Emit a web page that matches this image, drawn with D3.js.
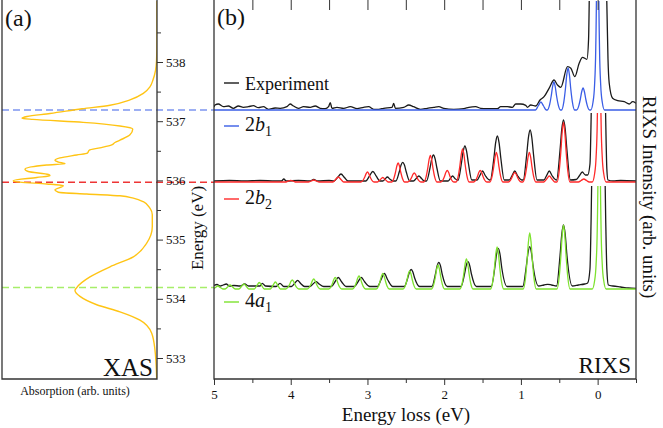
<!DOCTYPE html>
<html><head><meta charset="utf-8">
<script src="https://cdn.jsdelivr.net/npm/d3@7"></script>
<style>
body{margin:0;background:#fff}
svg{display:block}
text{font-family:"Liberation Serif","Times New Roman",serif;fill:#111}
</style></head>
<body><svg id="c" width="663" height="428"></svg>
<script>
// ---------------- DATA ----------------
// XAS: [photon energy (eV), absorption (arb.)]
const xasData = [[539.03,0],[538.37,0],[538.03,0.003],[537.86,0.01],[537.70,0.027],[537.58,0.048],[537.47,0.093],[537.36,0.184],[537.27,0.32],[537.21,0.51],[537.13,0.728],[537.08,0.884],[537.05,0.918],[537.03,0.844],[536.98,0.503],[536.92,0.252],[536.87,0.165],[536.77,0.184],[536.68,0.252],[536.64,0.286],[536.60,0.308],[536.55,0.388],[536.51,0.461],[536.46,0.474],[536.43,0.546],[536.38,0.66],[536.34,0.694],[536.31,0.671],[536.28,0.626],[536.26,0.75],[536.19,0.898],[536.15,0.876],[536.10,0.739],[536.08,0.728],[536.05,0.818],[535.995,0.978],[535.97,0.932],[535.94,0.75],[535.91,0.637],[535.84,0.694],[535.80,0.671],[535.77,0.478],[535.74,0.252],[535.70,0.161],[535.64,0.093],[535.53,0.048],[535.42,0.032],[535.22,0.032],[534.94,0.07],[534.71,0.161],[534.54,0.32],[534.37,0.456],[534.19,0.546],[534.14,0.558],[534.04,0.524],[533.90,0.41],[533.78,0.252],[533.64,0.116],[533.42,0.036],[533.14,0.014],[532.65,0.002]];

// Excitation energies (dashed lines)
const excitationEnergies = [537.19, 535.97, 534.19];
const excitationColors = ["#7d95ef", "#ee3535", "#a6ee6a"];

// RIXS spectra: [energy loss (eV), intensity incl. vertical offset (arb.)]
const exp2b1 = [[5.0,272],[4.987,274],[4.944,275],[4.878,272.3],[4.813,273],[4.748,270.7],[4.683,273],[4.617,271.7],[4.552,272.3],[4.487,273.3],[4.421,271.3],[4.356,272.3],[4.291,269.7],[4.203,271],[4.138,270.7],[4.05,272.3],[4.007,275],[3.964,273],[3.899,270.7],[3.833,272.3],[3.746,271.7],[3.681,273],[3.615,270.7],[3.55,270.3],[3.507,272.3],[3.485,276.3],[3.462,270.7],[3.397,271.7],[3.311,270.7],[3.223,272.3],[3.136,270.3],[3.05,271.7],[2.984,272.3],[2.919,269.7],[2.854,269.7],[2.788,270.7],[2.679,271.7],[2.658,275.7],[2.636,270.7],[2.527,271.7],[2.462,274],[2.397,272.3],[2.309,269.7],[2.221,270.7],[2.135,271.7],[2.07,272.3],[2.005,270.7],[1.874,269.7],[1.743,270.3],[1.678,271.7],[1.59,272.3],[1.525,270.7],[1.438,270.3],[1.307,270.3],[1.264,272.3],[1.176,272.3],[1.111,271.7],[1.068,275],[1.003,275],[0.937,273.7],[0.915,271.7],[0.872,274],[0.807,273],[0.751,279],[0.698,282.3],[0.633,290.7],[0.568,299],[0.523,294],[0.48,291.7],[0.393,312.3],[0.349,310.7],[0.297,302.3],[0.241,315.7],[0.197,321.7],[0.14,319.7],[0.118,340],[0.1,420],[0,480],[-0.105,420],[-0.12,375],[-0.135,320],[-0.151,295.7],[-0.195,280.7],[-0.261,278.3],[-0.347,277.3],[-0.412,275],[-0.456,277.3],[-0.5,275.7]];

const calc2b1 = [[5.0,269],[0.81,269],[0.775,273],[0.74,277],[0.705,273],[0.67,269],[0.655,269],[0.625,274.6],[0.605,283],[0.587,292.5],[0.57,297],[0.553,292.5],[0.535,283],[0.515,274.6],[0.485,269],[0.47,269],[0.44,277.4],[0.42,290],[0.402,304.3],[0.385,311],[0.368,304.3],[0.35,290],[0.33,277.4],[0.30,269],[0.275,269],[0.245,273.4],[0.225,280],[0.207,287.5],[0.19,291],[0.173,287.5],[0.155,280],[0.135,273.4],[0.105,269],[0.09,269],[0.06,277],[0.04,294],[0.025,329],[0.012,419],[0,669],[-0.012,419],[-0.025,329],[-0.04,294],[-0.06,277],[-0.09,269],[-0.5,269]];

const exp2b2 = [[5.0,198],[4.8,198.5],[4.6,198],[4.4,198.5],[4.2,198],[4.12,198],[4.09,200],[4.06,198],[3.9,198.5],[3.75,198],[3.7,199.5],[3.65,198],[3.5,198.5],[3.435,198],[3.39,201.5],[3.345,205],[3.30,201.5],[3.255,198],[3.02,198],[2.975,202.8],[2.93,207.5],[2.885,202.8],[2.84,198],[2.80,198],[2.77,200],[2.74,202],[2.71,200],[2.665,198],[2.63,198],[2.585,207.3],[2.562,213.9],[2.54,216.7],[2.518,213.9],[2.495,207.3],[2.45,198],[2.40,198],[2.365,200.5],[2.33,203],[2.295,200.5],[2.26,198],[2.23,198],[2.185,211],[2.162,220.1],[2.14,224],[2.118,220.1],[2.095,211],[2.05,198],[1.95,198],[1.92,200.5],[1.89,203],[1.86,200.5],[1.82,198.5],[1.775,216],[1.752,227.8],[1.73,233],[1.708,227.8],[1.685,216],[1.64,199],[1.57,199],[1.535,203.5],[1.50,208],[1.465,203.5],[1.41,199],[1.40,199],[1.352,221],[1.329,236.4],[1.307,243],[1.285,236.4],[1.262,221],[1.217,199],[1.15,199],[1.115,203.5],[1.08,208],[1.045,203.5],[0.99,199],[0.97,199],[0.925,224],[0.902,241.5],[0.88,249],[0.858,241.5],[0.835,224],[0.79,199],[0.70,199],[0.665,203.5],[0.63,208],[0.595,203.5],[0.54,199],[0.535,199],[0.49,229],[0.467,250],[0.445,259],[0.423,250],[0.40,229],[0.355,199],[0.28,199.5],[0.24,203],[0.20,207],[0.16,204],[0.13,204],[0.10,215],[0.085,260],[0.07,330],[0,420],[-0.09,330],[-0.105,260],[-0.12,210],[-0.135,199],[-0.2,198],[-0.3,198.5],[-0.5,198]];

const calc2b2 = [[5.0,197],[4.07,197],[4.035,197.8],[4.0,198.5],[3.965,197.8],[3.93,197],[3.77,197],[3.735,198],[3.7,199],[3.665,198],[3.63,197],[3.45,197],[3.415,199.5],[3.38,202],[3.345,199.5],[3.31,197],[3.085,197],[3.055,199],[3.035,202],[3.017,205.4],[3.0,207],[2.983,205.4],[2.965,202],[2.945,199],[2.915,197],[2.87,197],[2.835,199.3],[2.8,201.5],[2.765,199.3],[2.73,197],[2.685,197],[2.655,200.8],[2.635,206.5],[2.617,213],[2.6,216],[2.583,213],[2.565,206.5],[2.545,200.8],[2.515,197],[2.475,197],[2.445,198.8],[2.425,201.5],[2.407,204.6],[2.39,206],[2.373,204.6],[2.355,201.5],[2.335,198.8],[2.305,197],[2.265,197],[2.235,202.3],[2.215,210.3],[2.197,219.3],[2.18,223.5],[2.163,219.3],[2.145,210.3],[2.125,202.3],[2.095,197],[2.045,197],[2.015,199.3],[1.995,202.8],[1.977,206.7],[1.96,208.5],[1.943,206.7],[1.925,202.8],[1.905,199.3],[1.875,197],[1.845,197],[1.815,203.6],[1.795,213.5],[1.777,224.7],[1.76,230],[1.743,224.7],[1.725,213.5],[1.705,203.6],[1.675,197],[1.615,197],[1.585,199.3],[1.565,202.8],[1.547,206.7],[1.53,208.5],[1.513,206.7],[1.495,202.8],[1.475,199.3],[1.445,197],[1.405,197],[1.375,202.9],[1.355,211.8],[1.337,221.8],[1.32,226.5],[1.303,221.8],[1.285,211.8],[1.265,202.9],[1.235,197],[1.165,197],[1.135,198.9],[1.115,201.8],[1.097,205],[1.08,206.5],[1.063,205],[1.045,201.8],[1.025,198.9],[0.995,197],[0.975,197],[0.945,202.9],[0.925,211.8],[0.907,221.8],[0.89,226.5],[0.873,221.8],[0.855,211.8],[0.835,202.9],[0.805,197],[0.70,197],[0.665,200],[0.63,203],[0.595,200],[0.56,197],[0.53,197],[0.5,208.9],[0.48,226.8],[0.462,247],[0.445,256.5],[0.428,247],[0.41,226.8],[0.39,208.9],[0.36,197],[0.25,197],[0.215,198.5],[0.18,200],[0.145,198.5],[0.11,197],[0.07,197],[0.04,205],[0.02,222],[0.005,257],[-0.008,347],[-0.02,597],[-0.032,347],[-0.045,257],[-0.06,222],[-0.08,205],[-0.11,197],[-0.5,197]];

const exp4a1 = [[5.0,93.5],[4.96,94.5],[4.92,93],[4.88,94],[4.84,95],[4.80,93],[4.74,93.5],[4.66,93],[4.60,95],[4.55,93],[4.50,93],[4.43,93],[4.40,93],[4.37,95.7],[4.33,93],[4.19,92.5],[4.14,95.7],[4.09,92.5],[3.99,92.5],[3.95,95.5],[3.91,98.7],[3.87,95.5],[3.82,92.5],[3.75,92.5],[3.71,95],[3.67,97.3],[3.63,95],[3.57,92.5],[3.47,92.5],[3.425,97],[3.38,101.5],[3.335,97],[3.28,92.5],[3.17,92.5],[3.125,97],[3.08,101.5],[3.035,97],[2.97,92.5],[2.87,92.5],[2.825,99],[2.78,105.5],[2.735,99],[2.67,92.5],[2.52,92.5],[2.475,101],[2.452,107],[2.43,109.5],[2.408,107],[2.385,101],[2.32,92.5],[2.16,92.5],[2.115,104.5],[2.092,113.1],[2.07,116.7],[2.048,113.1],[2.025,104.5],[1.96,92.5],[1.78,92.5],[1.735,105],[1.712,113.6],[1.69,117.3],[1.668,113.6],[1.645,105],[1.58,92.5],[1.385,92.5],[1.34,111.5],[1.317,125],[1.295,130.7],[1.273,125],[1.25,111.5],[1.18,92.5],[0.975,92.5],[0.93,112.5],[0.907,126.3],[0.885,132.3],[0.863,126.3],[0.84,112.5],[0.77,93],[0.70,94],[0.65,94.7],[0.60,94],[0.535,93],[0.49,123.5],[0.467,144.9],[0.445,154],[0.423,144.9],[0.40,123.5],[0.33,93],[0.25,94],[0.17,95],[0.13,96],[0.10,110],[0.085,160],[0.07,230],[0,320],[-0.09,230],[-0.105,160],[-0.12,110],[-0.14,94],[-0.2,93],[-0.3,92],[-0.4,91],[-0.5,90.7]];

const calc4a1 = [[5.0,90.5],[4.982,91.5],[4.95,93],[4.918,91.5],[4.885,90],[4.855,90],[4.822,92],[4.79,94],[4.758,92],[4.725,90],[4.675,90],[4.642,92.5],[4.61,95],[4.578,92.5],[4.545,90],[4.475,90],[4.442,93.3],[4.41,96.5],[4.378,93.3],[4.345,90],[4.265,90],[4.232,93.5],[4.20,97],[4.168,93.5],[4.135,90],[4.065,90],[4.035,91.8],[4.015,94.5],[3.997,97.6],[3.98,99],[3.963,97.6],[3.945,94.5],[3.925,91.8],[3.895,90],[3.785,90],[3.755,92],[3.735,95],[3.717,98.4],[3.70,100],[3.683,98.4],[3.665,95],[3.645,92],[3.615,90],[3.505,90],[3.475,92.3],[3.455,95.8],[3.437,99.7],[3.42,101.5],[3.403,99.7],[3.385,95.8],[3.365,92.3],[3.335,90],[3.195,90],[3.165,92.6],[3.145,96.5],[3.127,100.9],[3.11,103],[3.093,100.9],[3.075,96.5],[3.055,92.6],[3.025,90],[2.885,90],[2.855,93.1],[2.835,97.8],[2.817,103],[2.80,105.5],[2.783,103],[2.765,97.8],[2.745,93.1],[2.715,90],[2.535,90],[2.505,93.6],[2.485,99],[2.467,105.1],[2.45,108],[2.433,105.1],[2.415,99],[2.395,93.6],[2.365,90],[2.165,90],[2.135,94.8],[2.115,102],[2.097,110.2],[2.08,114],[2.063,110.2],[2.045,102],[2.025,94.8],[1.995,90],[1.795,90],[1.765,96],[1.745,105],[1.727,115.2],[1.71,120],[1.693,115.2],[1.675,105],[1.655,96],[1.625,90],[1.395,90],[1.365,98.4],[1.345,111],[1.327,125.3],[1.31,132],[1.293,125.3],[1.275,111],[1.255,98.4],[1.225,90],[0.97,90],[0.94,101.2],[0.92,118],[0.902,137],[0.885,146],[0.868,137],[0.85,118],[0.83,101.2],[0.80,90],[0.53,90],[0.5,102.8],[0.48,122],[0.462,143.8],[0.445,154],[0.428,143.8],[0.41,122],[0.39,102.8],[0.36,90],[0.07,90],[0.04,98],[0.02,115],[0.005,150],[-0.008,240],[-0.02,490],[-0.032,240],[-0.045,150],[-0.06,115],[-0.08,98],[-0.11,90],[-0.5,90]];

// Vertical ceilings (arb.) above which each spectrum pair is cut
const ceilings = [378, 266, 193];

// Tick values & labels
const energyMajor = [533,534,535,536,537,538];
const energyMinor = [533.5,534.5,535.5,536.5,537.5,538.5];
const lossMajor = [5,4,3,2,1,0];
const lossMinor = [4.5,3.5,2.5,1.5,0.5,-0.5];
const lossTop = [4.5,4,3.5,3,2.5,2,1.5,1,0.5,0];

const legendNames = [["Experiment","",""],["2","b","1"],["2","b","2"],["4","a","1"]];
const legendColors = ["#1a1a1a","#3a5de6","#ff2a2a","#7de22e"];

// ---------------- DRAW ----------------
const svg = d3.select("#c");
const A = {l:2, r:157, t:-2, b:379};
const B = {l:214, r:636, t:-2, b:379};

const yE = d3.scaleLinear().domain([533,538]).range([358,62]);
const xAbs = d3.scaleLinear().domain([0,1]).range([157,10]);
const xLoss = d3.scaleLinear().domain([5,-0.5]).range([B.l,B.r]);
const yInt = d3.scaleLinear().domain([0,378]).range([379,1]);

const defs = svg.append("defs");
defs.append("clipPath").attr("id","clipA").append("rect")
  .attr("x",A.l).attr("y",0).attr("width",A.r-A.l).attr("height",A.b);
ceilings.forEach((c,i)=>{
  defs.append("clipPath").attr("id","clipB"+i).append("rect")
    .attr("x",B.l).attr("y",yInt(c)).attr("width",B.r-B.l).attr("height",B.b-yInt(c));
});

// Dashed excitation lines
excitationEnergies.forEach((e,i)=>{
  svg.append("line").attr("x1",A.l).attr("x2",B.l).attr("y1",yE(e)).attr("y2",yE(e))
    .attr("stroke",excitationColors[i]).attr("stroke-width",1.6).attr("stroke-dasharray","7,4");
});

// XAS curve
const xasLine = d3.line().x(d=>xAbs(d[1])).y(d=>yE(d[0])).curve(d3.curveMonotoneY);
svg.append("path").datum(xasData).attr("d",xasLine).attr("fill","none")
  .attr("stroke","#ffc414").attr("stroke-width",1.4).attr("clip-path","url(#clipA)");

// Panel A frame
svg.append("path").attr("d",`M${A.l},${A.t}V${A.b}H${A.r}V${A.t}`)
  .attr("fill","none").attr("stroke","#333").attr("stroke-width",1.3);

// Energy axis (right of panel a)
const axE = svg.append("g").attr("transform",`translate(${A.r},0)`)
  .call(d3.axisRight(yE).tickValues(energyMajor).tickSize(6).tickPadding(3).tickFormat(d3.format("d")));
axE.select(".domain").remove();
axE.selectAll("line").attr("stroke","#333");
axE.selectAll("text").attr("font-family","Liberation Serif, serif").attr("font-size",13).attr("fill","#222");
const axEm = svg.append("g").attr("transform",`translate(${A.r},0)`)
  .call(d3.axisRight(yE).tickValues(energyMinor).tickSize(4).tickFormat(""));
axEm.select(".domain").remove();
axEm.selectAll("line").attr("stroke","#333");

// RIXS spectra
const sLine = d3.line().x(d=>xLoss(d[0])).y(d=>yInt(d[1])).curve(d3.curveMonotoneX);
const pairs = [[exp2b1,calc2b1,1],[exp2b2,calc2b2,2],[exp4a1,calc4a1,3]];
pairs.forEach(([ex,ca,ci],i)=>{
  const g = svg.append("g").attr("clip-path",`url(#clipB${i})`);
  g.append("path").datum(ex).attr("d",sLine).attr("fill","none").attr("stroke",legendColors[0]).attr("stroke-width",1.3);
  g.append("path").datum(ca).attr("d",sLine).attr("fill","none").attr("stroke",legendColors[ci]).attr("stroke-width",1.3);
});

// Panel B frame
svg.append("path").attr("d",`M${B.l},${B.t}V${B.b}H${B.r}V${B.t}`)
  .attr("fill","none").attr("stroke","#333").attr("stroke-width",1.3);

// Bottom axis
const axL = svg.append("g").attr("transform",`translate(0,${B.b})`)
  .call(d3.axisBottom(xLoss).tickValues(lossMajor).tickSize(6).tickPadding(5).tickFormat(d3.format("d")));
axL.select(".domain").remove();
axL.selectAll("line").attr("stroke","#333");
axL.selectAll("text").attr("font-family","Liberation Serif, serif").attr("font-size",13).attr("fill","#222");
const axLm = svg.append("g").attr("transform",`translate(0,${B.b})`)
  .call(d3.axisBottom(xLoss).tickValues(lossMinor).tickSize(4).tickFormat(""));
axLm.select(".domain").remove();
axLm.selectAll("line").attr("stroke","#333");
// Top ticks (inward)
const axT = svg.append("g").attr("transform","translate(0,0)")
  .call(d3.axisBottom(xLoss).tickValues(lossTop).tickSize(10).tickFormat(""));
axT.select(".domain").remove();
axT.selectAll("line").attr("stroke","#333");

// Legend
legendNames.forEach((n,i)=>{
  const ly = [83,126,199,302][i];
  svg.append("line").attr("x1",224).attr("x2",239).attr("y1",ly).attr("y2",ly)
    .attr("stroke",legendColors[i]).attr("stroke-width",1.4);
  if(i===0){
    svg.append("text").attr("x",245).attr("y",ly+7).attr("font-size",18).text(n[0]);
  } else {
    const t = svg.append("text").attr("x",245).attr("y",ly+5).attr("font-size",20);
    t.append("tspan").text(n[0]);
    t.append("tspan").attr("font-style","italic").text(n[1]);
    t.append("tspan").attr("font-size",14).attr("dy",5).text(n[2]);
  }
});

// Labels
svg.append("text").attr("x",5).attr("y",26).attr("font-size",24).text("(a)");
svg.append("text").attr("x",217).attr("y",25).attr("font-size",24).text("(b)");
svg.append("text").attr("x",153).attr("y",376).attr("text-anchor","end").attr("font-size",25).text("XAS");
svg.append("text").attr("x",631).attr("y",373).attr("text-anchor","end").attr("font-size",23).text("RIXS");
svg.append("text").attr("x",75).attr("y",395).attr("text-anchor","middle").attr("font-size",12).text("Absorption (arb. units)");
svg.append("text").attr("x",406).attr("y",421).attr("text-anchor","middle").attr("font-size",19).text("Energy loss (eV)");
svg.append("text").attr("transform","translate(203,228) rotate(-90)").attr("text-anchor","middle").attr("font-size",17).text("Energy (eV)");
svg.append("text").attr("transform","translate(643,197) rotate(90)").attr("text-anchor","middle").attr("font-size",19).text("RIXS Intensity (arb. units)");
</script></body></html>
